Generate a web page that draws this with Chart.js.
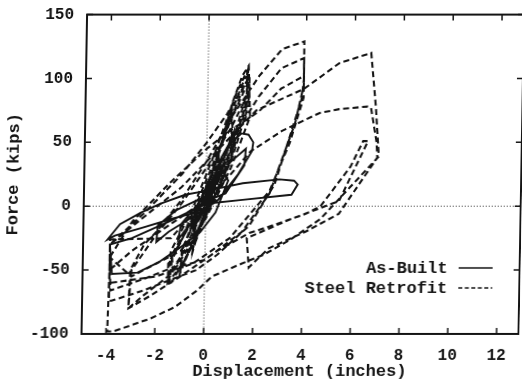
<!DOCTYPE html>
<html>
<head>
<meta charset="utf-8">
<script src="https://cdn.jsdelivr.net/npm/chart.js@4/dist/chart.umd.min.js"></script>
<style>
  html, body { margin: 0; padding: 0; background: #fff; }
  #wrap { width: 522px; height: 382px; }
  /* the scan is slightly sheared: top edge sits a few px right of the bottom edge */
  #chart { transform: skewX(-1deg); transform-origin: 50% 50%; }
</style>
</head>
<body>
<div id="wrap"><canvas id="chart" width="522" height="382"></canvas></div>
<script>
// --- datos (pulgadas, kips) ---
const xTicks = [-4, -2, 0, 2, 4, 6, 8, 10, 12];
const yTicks = [-100, -50, 0, 50, 100, 150];

const asBuiltX = [0, 0.25, 0.45, 0.4, 0, -0.4, -0.5, -0.4, 0, 0.5, 0.6, 0.5, 0, -0.6, -0.65, -0.5,
  0, 0.6, 1.0, 1.1, 1.05, 0.5, 0, -0.8, -1.1, -1.0, -0.3, 0.5, 1.0, 1.41, 1.7, 1.9, 1.85, 1.3, 0.5, -0.5, -1.5, -2.0, -1.95, -1.2,
  0, 1.0, 1.6, 1.55, 0.8, 0, -0.45, -1.4, -2.6, -3.7, -4.0, -3.5, -2.65, -1.85, -0.85, 0, 1.5, 3.0, 3.6, 3.75, 3.5, 1.5, 0,
  -1.5, -3.0, -3.9, -3.8, -2.75, -1.9, -1.0, -0.2, 0.4, 0.9, 0.6, 0.1];
const asBuiltY = [0, 18, 30, 18, -2, -14, -18, -6, 6, 32, 38, 22, 2, -18, -22, -8,
  8, 38, 52, 58, 40, 12, -2, -18, -26, -14, 2, 30, 50, 57, 56, 50, 43, 25, 5, -8, -20, -28, -15, -3,
  8, 35, 45, 32, 10, 4, -5, -10, -17, -23, -26, -14, -5, 2, 9, 12, 18, 21, 20, 17, 9, 5, 2,
  -12, -25, -30, -53, -52, -44, -32, -20, -5, 20, 30, 10];

const retrofitX = [0, 0.3, 0.5, 0.45, 0, -0.4, -0.5, -0.4, 0, 0.4, 0.5, 0.45, -0.1, -0.5, -0.45,
  0, 0.6, 1.0, 1.05, 0.5, -0.3, -0.9, -1.0, -0.9, -0.2, 0.5, 1.0, 1.0, 0.3, -0.5, -1.0, -0.95,
  -0.3, 0.4, 1.0, 1.4, 1.66, 1.7, 1.3, 0.5, -0.5, -1.3, -1.45, -1.35, -0.6, 0.2, 0.95, 1.5, 1.7, 1.7, 1.1, 0.2, -0.8, -1.5, -1.5,
  -0.5, 0.3, 1.0, 1.5, 1.65, 1.6, 1.0, 0, -1.0, -1.5, -1.4, -0.6, 0.3, 1.2, 1.6, 1.6, 0.9, -0.3, -1.3, -1.35,
  -0.8, 0.1, 0.9, 1.6, 1.7, 1.0, -0.2, -1.5, -2.5, -3.1, -3.05, -2.5,
  -2.0, -1.0, 0, 1.0, 2.1, 3.02, 3.92, 3.93, 3.85, 2.8, 1.8, 0.5, -0.35, -1.45, -2.5, -3.8, -3.9, -3.9, -3.9, -1.4,
  -0.5, 0.4, 1.2, 2.1, 3.0, 3.92, 3.93, 3.6, 2.6, 1.5, 0, -1.45, -2.5, -3.85, -3.9, -3.0, -1.5, 0, 1.0, 2.1, 3.0, 3.93, 3.93, 3.4, 2.6, 1.0, -0.5, -2.0, -3.85,
  -3.9, -3.9, -2.5, -1.0, 0.5, 2.0, 3.95, 5.37, 6.67, 6.9, 7.05, 5.9, 4.7, 3.5, 2.4, 1.5, 0.3, -0.3, -1.2, -2.2, -3.7, -3.95,
  -3.9, -3.0, -1.5, 0, 1.0, 1.8, 3.07, 4.6, 5.4, 6.55, 6.7, 6.95, 6.99, 5.45, 4.1, 2.6, 1.8, 1.7,
  3.5, 5.45, 6.6, 6.4, 5.9, 4.7, 4.1, 2.6, 1.8, 0.5, -1.0, -2.2, -3.1,
  -3.0, -2.0, -1.0, 0, 1.0, 1.7, 1.75, 1.0, 0, -1.0, -2.0, -3.0, -3.9, -3.9, -2.5, -1.0, 0, 0.8, 1.6, 1.66];
const retrofitY = [0, 30, 42, 25, -8, -28, -33, -15, 8, 35, 45, 28, -8, -35, -18,
  10, 50, 72, 58, 20, -18, -45, -50, -32, 2, 42, 75, 55, 12, -28, -52, -35,
  -5, 35, 80, 102, 110, 92, 60, 15, -30, -58, -62, -42, -12, 25, 72, 100, 103, 85, 45, 0, -42, -60, -45,
  -10, 30, 70, 95, 100, 80, 45, 0, -40, -58, -35, -5, 40, 90, 106, 88, 40, -20, -52, -38,
  -18, 25, 65, 95, 80, 35, -15, -55, -70, -80, -50, -30,
  -20, 5, 35, 70, 102, 123, 129, 100, 84, 17, -15, -38, -50, -58, -66, -74, -74, -45, -26, -25,
  -5, 30, 58, 86, 108, 116, 95, 65, 10, -20, -42, -49, -57, -66, -40, -12, 18, 45, 60, 74, 92, 102, 85, 50, 12, -25, -45, -55, -60,
  -55, -30, -8, 15, 45, 75, 92, 112, 120, 77, 39, 15, -10, -26, -38, -45, -55, -66, -79, -88, -98, -98,
  -50, -35, -15, 5, 25, 43, 59, 73, 76, 78, 77, 50, 38, -6, -20, -33, -48, -25,
  -10, 4, 51, 51, 31, 0, -6, -16, -21, -35, -55, -70, -80,
  -50, -22, 2, 30, 62, 90, 70, 30, -10, -35, -45, -55, -40, -30, -5, 25, 50, 72, 98, 110];

const toPoints = (xs, ys) => xs.map((x, i) => ({ x: x, y: ys[i] }));

const FONT = '"Liberation Mono", "DejaVu Sans Mono", monospace';
const INK = '#141414';

// marco completo, ticks hacia adentro en los 4 lados, lineas de cero punteadas y leyenda
const marcoPlugin = {
  id: 'marco',
  beforeDatasetsDraw(chart) {
    const { ctx, chartArea: a, scales } = chart;
    const x0 = scales.x.getPixelForValue(0);
    const y0 = scales.y.getPixelForValue(0);
    ctx.save();
    ctx.strokeStyle = '#333';
    ctx.lineWidth = 1;
    ctx.setLineDash([1, 2]);
    ctx.beginPath();
    ctx.moveTo(x0, a.top); ctx.lineTo(x0, a.bottom);
    ctx.moveTo(a.left, y0); ctx.lineTo(a.right, y0);
    ctx.stroke();
    ctx.restore();
  },
  afterDraw(chart) {
    const { ctx, chartArea: a, scales } = chart;
    ctx.save();
    ctx.strokeStyle = INK;
    ctx.lineWidth = 2;
    ctx.strokeRect(a.left, a.top, a.right - a.left, a.bottom - a.top);
    ctx.lineWidth = 1.5;
    ctx.beginPath();
    xTicks.forEach(v => {
      const px = scales.x.getPixelForValue(v);
      ctx.moveTo(px, a.bottom); ctx.lineTo(px, a.bottom - 6);
      ctx.moveTo(px, a.top); ctx.lineTo(px, a.top + 6);
    });
    yTicks.forEach(v => {
      const py = scales.y.getPixelForValue(v);
      ctx.moveTo(a.left, py); ctx.lineTo(a.left + 6, py);
      ctx.moveTo(a.right, py); ctx.lineTo(a.right - 6, py);
    });
    ctx.stroke();

    // leyenda
    ctx.fillStyle = INK;
    ctx.font = 'bold 17px ' + FONT;
    ctx.textAlign = 'right';
    ctx.textBaseline = 'middle';
    ctx.fillText('As-Built', 449, 269);
    ctx.fillText('Steel Retrofit', 449, 289);
    ctx.lineWidth = 1.6;
    ctx.beginPath();
    ctx.moveTo(460, 268); ctx.lineTo(494, 268);
    ctx.stroke();
    ctx.setLineDash([4, 2.5]);
    ctx.beginPath();
    ctx.moveTo(460, 288); ctx.lineTo(494, 288);
    ctx.stroke();
    ctx.restore();
  }
};

new Chart(document.getElementById('chart'), {
  type: 'scatter',
  data: {
    datasets: [
      {
        label: 'As-Built',
        data: toPoints(asBuiltX, asBuiltY),
        showLine: true,
        borderColor: INK,
        borderWidth: 1.9,
        pointRadius: 0,
        tension: 0
      },
      {
        label: 'Steel Retrofit',
        data: toPoints(retrofitX, retrofitY),
        showLine: true,
        borderColor: INK,
        borderWidth: 2.1,
        borderDash: [6, 3.5],
        pointRadius: 0,
        tension: 0
      }
    ]
  },
  options: {
    responsive: false,
    animation: false,
    events: [],
    layout: { padding: { top: 14, right: 1, left: 0, bottom: 0 } },
    plugins: { legend: { display: false }, tooltip: { enabled: false } },
    scales: {
      x: {
        type: 'linear',
        min: -5.0,
        max: 12.9,
        afterBuildTicks: s => { s.ticks = xTicks.map(v => ({ value: v })); },
        afterFit: s => { s.height = 48; },
        grid: { display: false },
        border: { display: true, color: INK, width: 2 },
        ticks: { color: INK, padding: 4, maxRotation: 0, font: { family: FONT, size: 16, weight: 'bold' } },
        title: {
          display: true,
          text: 'Displacement (inches)',
          color: INK,
          padding: { top: 0, bottom: 0 },
          font: { family: FONT, size: 17, weight: 'bold' }
        }
      },
      y: {
        type: 'linear',
        min: -100,
        max: 150,
        afterBuildTicks: s => { s.ticks = yTicks.map(v => ({ value: v })); },
        afterFit: s => { s.width = 84; },
        grid: { display: false },
        border: { display: true, color: INK, width: 2 },
        ticks: { color: INK, padding: 5, font: { family: FONT, size: 16, weight: 'bold' } },
        title: {
          display: true,
          text: 'Force (kips)',
          color: INK,
          padding: { top: 4, bottom: 4 },
          font: { family: FONT, size: 17, weight: 'bold' }
        }
      }
    }
  },
  plugins: [marcoPlugin]
});
</script>
</body>
</html>
